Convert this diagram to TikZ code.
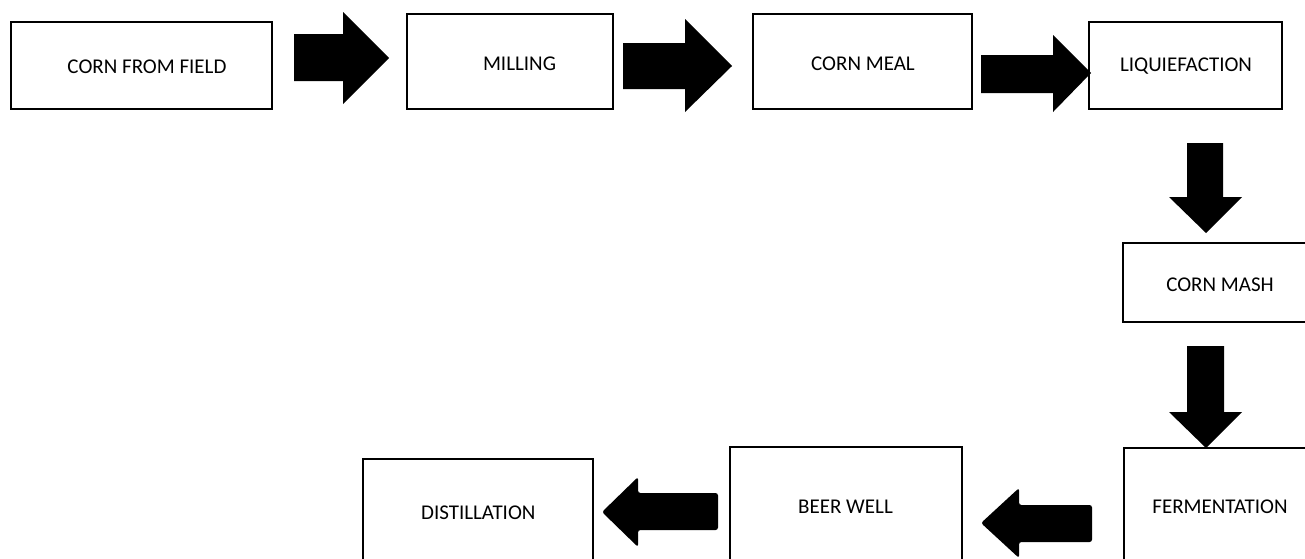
\documentclass[tikz,border=0pt]{standalone}
\usepackage{fontspec}
\setmainfont{Carlito}
\begin{document}
\begin{tikzpicture}[x=1pt,y=-1pt,
  procbox/.style={draw=black,line width=1.6pt,fill=white,inner sep=0pt,minimum width=#1},
  boxtext/.style={font=\fontsize{21}{24}\selectfont,inner sep=0pt},
  blockarrow/.style={fill=black,draw=none}]
\useasboundingbox (0,0) rectangle (1305,558);
\clip (0,0) rectangle (1305,558);
% boxes
\node[procbox=261pt,minimum height=87pt] (b1) at (141.5,65.5) {};
\node[boxtext] (t1) at (147,66.5) {CORN FROM FIELD};
\node[procbox=206pt,minimum height=95pt] (b2) at (510,61.5) {};
\node[boxtext] (t2) at (519.5,64) {MILLING};
\node[procbox=219pt,minimum height=95pt] (b3) at (862.5,61.5) {};
\node[boxtext] (t3) at (863,64) {CORN MEAL};
\node[procbox=193pt,minimum height=87pt] (b4) at (1185.5,65.5) {};
\node[boxtext] (t4) at (1186,66.5) {LIQUIEFACTION};
\node[procbox=195pt,minimum height=79pt] (b5) at (1220.5,282.5) {};
\node[boxtext] (t5) at (1220,284.5) {CORN MASH};
\node[procbox=194pt,minimum height=132pt] (b6) at (1221,514) {};
\node[boxtext] (t6) at (1220,507) {FERMENTATION};
\node[procbox=232pt,minimum height=133pt] (b7) at (846,513.5) {};
\node[boxtext] (t7) at (845.5,507) {BEER WELL};
\node[procbox=230pt,minimum height=121pt] (b8) at (478,519.5) {};
\node[boxtext] (t8) at (478.3,513) {DISTILLATION};
% right arrows
\fill[blockarrow] (294,34) -- (343,34) -- (343,12) -- (389,58) -- (343,104) -- (343,81) -- (294,81) -- cycle;
\fill[blockarrow] (623,43) -- (685,43) -- (685,19) -- (732,66) -- (685,112) -- (685,89) -- (623,89) -- cycle;
\fill[blockarrow] (981,55) -- (1053,55) -- (1053,35) -- (1091,73) -- (1053,112) -- (1053,93) -- (981,93) -- cycle;
% down arrows
\fill[blockarrow] (1187,143) -- (1223,143) -- (1223,197) -- (1242,197) -- (1206,233) -- (1169,197) -- (1187,197) -- cycle;
\fill[blockarrow] (1187,346) -- (1224,346) -- (1224,412) -- (1242,412) -- (1206,448) -- (1169,412) -- (1187,412) -- cycle;
% left arrows
\fill[blockarrow,rounded corners=2.5pt] (1092,505) -- (1092,542) -- (1019,542) -- (1019,558) -- (981,523) -- (1019,488) -- (1019,505) -- cycle;
\fill[blockarrow,rounded corners=2.5pt] (718,493) -- (718,530) -- (638,530) -- (638,547) -- (602,512) -- (638,477) -- (638,493) -- cycle;
\end{tikzpicture}
\end{document}
